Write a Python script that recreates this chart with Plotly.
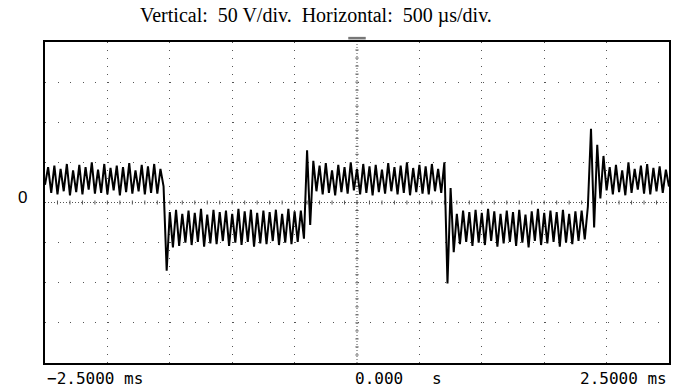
import plotly.graph_objects as go

# ---- data (volts, sampled every 0.025 ms from -2.5 ms) ----
t_start_ms = -2.5
dt_ms = 0.025

seg_high_1 = [22, 44, 12, 46, 10, 42, 14, 48, 9, 40,
              13, 47, 10, 44, 16, 50, 11, 41, 12, 48,
              10, 43, 15, 46, 9, 44, 13, 49, 11, 40,
              14, 47, 10, 45, 12, 48, 11, 42, 20]
edge_fall_1 = [-85]
seg_low_2 = [-12, -56, -9, -54, -14, -50, -10, -53, -13, -49,
             -8, -55, -15, -51, -9, -52, -12, -48, -10, -54,
             -14, -50, -8, -53, -11, -49, -9, -55, -13, -51,
             -10, -52, -12, -48, -9, -53, -14, -50, -8, -52,
             -11, -49, -10, -45]
edge_rise_1 = [65, -28]
seg_high_3 = [52, 14, 46, 10, 49, 12, 40, 9, 47, 13,
              44, 11, 50, 15, 42, 10, 48, 12, 45, 9,
              47, 13, 41, 11, 49, 14, 44, 10, 46, 12,
              50, 9, 43, 13, 47, 11, 45, 10, 48, 14,
              42, 12, 50]
edge_fall_2 = [-101, 18, -62]
seg_low_4 = [-14, -52, -10, -49, -12, -54, -9, -50, -13, -53,
             -8, -48, -11, -55, -14, -51, -10, -49, -12, -54,
             -9, -50, -15, -56, -11, -48, -8, -53, -13, -51,
             -10, -49, -12, -55, -9, -50, -14, -52, -11, -48,
             -10, -46, -5]
edge_rise_2 = [92, -31, 72, 5, 58]
seg_high_5 = [15, 44, 10, 47, 13, 40, 9, 50, 12, 42,
              16, 46, 11, 48, 10, 43, 14, 45, 12, 41,
              20]

volts = (seg_high_1 + edge_fall_1 + seg_low_2 + edge_rise_1 + seg_high_3
         + edge_fall_2 + seg_low_4 + edge_rise_2 + seg_high_5)

x_range = [-2.5, 2.5]
y_range = [-200, 200]
x_div = [-2.0, -1.5, -1.0, -0.5, 0.5, 1.0, 1.5, 2.0]
y_div = [-150, -100, -50, 50, 100, 150]

title_text = "Vertical:\u00a0 50 V/div.\u00a0 Horizontal:\u00a0 500 \u00b5s/div."
x_labels = ["\u22122.5000 ms", "0.000\u00a0\u00a0 s", "2.5000 ms"]
y_label = "0"

fig = go.Figure()
fig.add_trace(go.Scatter(x0=t_start_ms, dx=dt_ms, y=volts, mode="lines",
                         line=dict(color="black", width=2),
                         hoverinfo="skip", showlegend=False))

grid_col = "#555555"
fig.update_xaxes(range=x_range, tickvals=x_div, showticklabels=False, ticks="",
                 showgrid=True, gridcolor=grid_col, gridwidth=1.3,
                 griddash="1.3px,6.7px", zeroline=False,
                 showline=True, mirror=True, linecolor="black", linewidth=2,
                 fixedrange=True)
fig.update_yaxes(range=y_range, tickvals=y_div, showticklabels=False, ticks="",
                 showgrid=True, gridcolor=grid_col, gridwidth=1.3,
                 griddash="1.3px,11.2px", zeroline=False,
                 showline=True, mirror=True, linecolor="black", linewidth=2,
                 fixedrange=True)

shapes = []
# centre cross (dense dotted)
shapes.append(dict(type="line", xref="x", yref="y", x0=x_range[0], x1=x_range[1],
                   y0=0, y1=0, line=dict(color="#555", width=1, dash="1px,2px"), layer="below"))
shapes.append(dict(type="line", xref="x", yref="y", x0=0, x1=0,
                   y0=y_range[0], y1=y_range[1],
                   line=dict(color="#555", width=1, dash="1px,2px"), layer="below"))
# small ticks on centre cross
for k in range(-24, 25):
    xv = k * 0.1
    shapes.append(dict(type="line", xref="x", yref="y", x0=xv, x1=xv, y0=-2.5, y1=2.5,
                       line=dict(color="#555", width=1), layer="below"))
for k in range(-19, 20):
    yv = k * 10
    shapes.append(dict(type="line", xref="x", yref="y", x0=-0.013, x1=0.013, y0=yv, y1=yv,
                       line=dict(color="#555", width=1), layer="below"))
# trigger marker above frame
shapes.append(dict(type="rect", xref="x", yref="paper", x0=-0.07, x1=0.07,
                   y0=1.008, y1=1.016, fillcolor="#777", line=dict(width=0)))

annotations = [
    dict(text=title_text, xref="paper", yref="paper", x=0.4345, y=1.0, yshift=27,
         xanchor="center", yanchor="middle", showarrow=False,
         font=dict(family="Liberation Serif", size=20, color="black")),
    dict(text=y_label, xref="paper", yref="y", x=0, y=0, xshift=-23, yshift=5,
         xanchor="center", yanchor="middle", showarrow=False,
         font=dict(family="Liberation Sans", size=17, color="black")),
    dict(text=x_labels[0], xref="x", yref="paper", x=x_range[0], y=0, yshift=-4,
         xanchor="left", yanchor="top", showarrow=False,
         font=dict(family="DejaVu Sans Mono", size=16, color="black")),
    dict(text=x_labels[1], xref="x", yref="paper", x=0, y=0, xshift=-4, yshift=-4,
         xanchor="left", yanchor="top", showarrow=False,
         font=dict(family="DejaVu Sans Mono", size=16, color="black")),
    dict(text=x_labels[2], xref="x", yref="paper", x=x_range[1], y=0, yshift=-4,
         xanchor="right", yanchor="top", showarrow=False,
         font=dict(family="DejaVu Sans Mono", size=16, color="black")),
]

fig.update_layout(width=674, height=388,
                  margin=dict(l=45, r=3, t=42, b=25),
                  plot_bgcolor="white", paper_bgcolor="white",
                  shapes=shapes, annotations=annotations, showlegend=False)

fig.write_html("out.html", config={"displayModeBar": False})
